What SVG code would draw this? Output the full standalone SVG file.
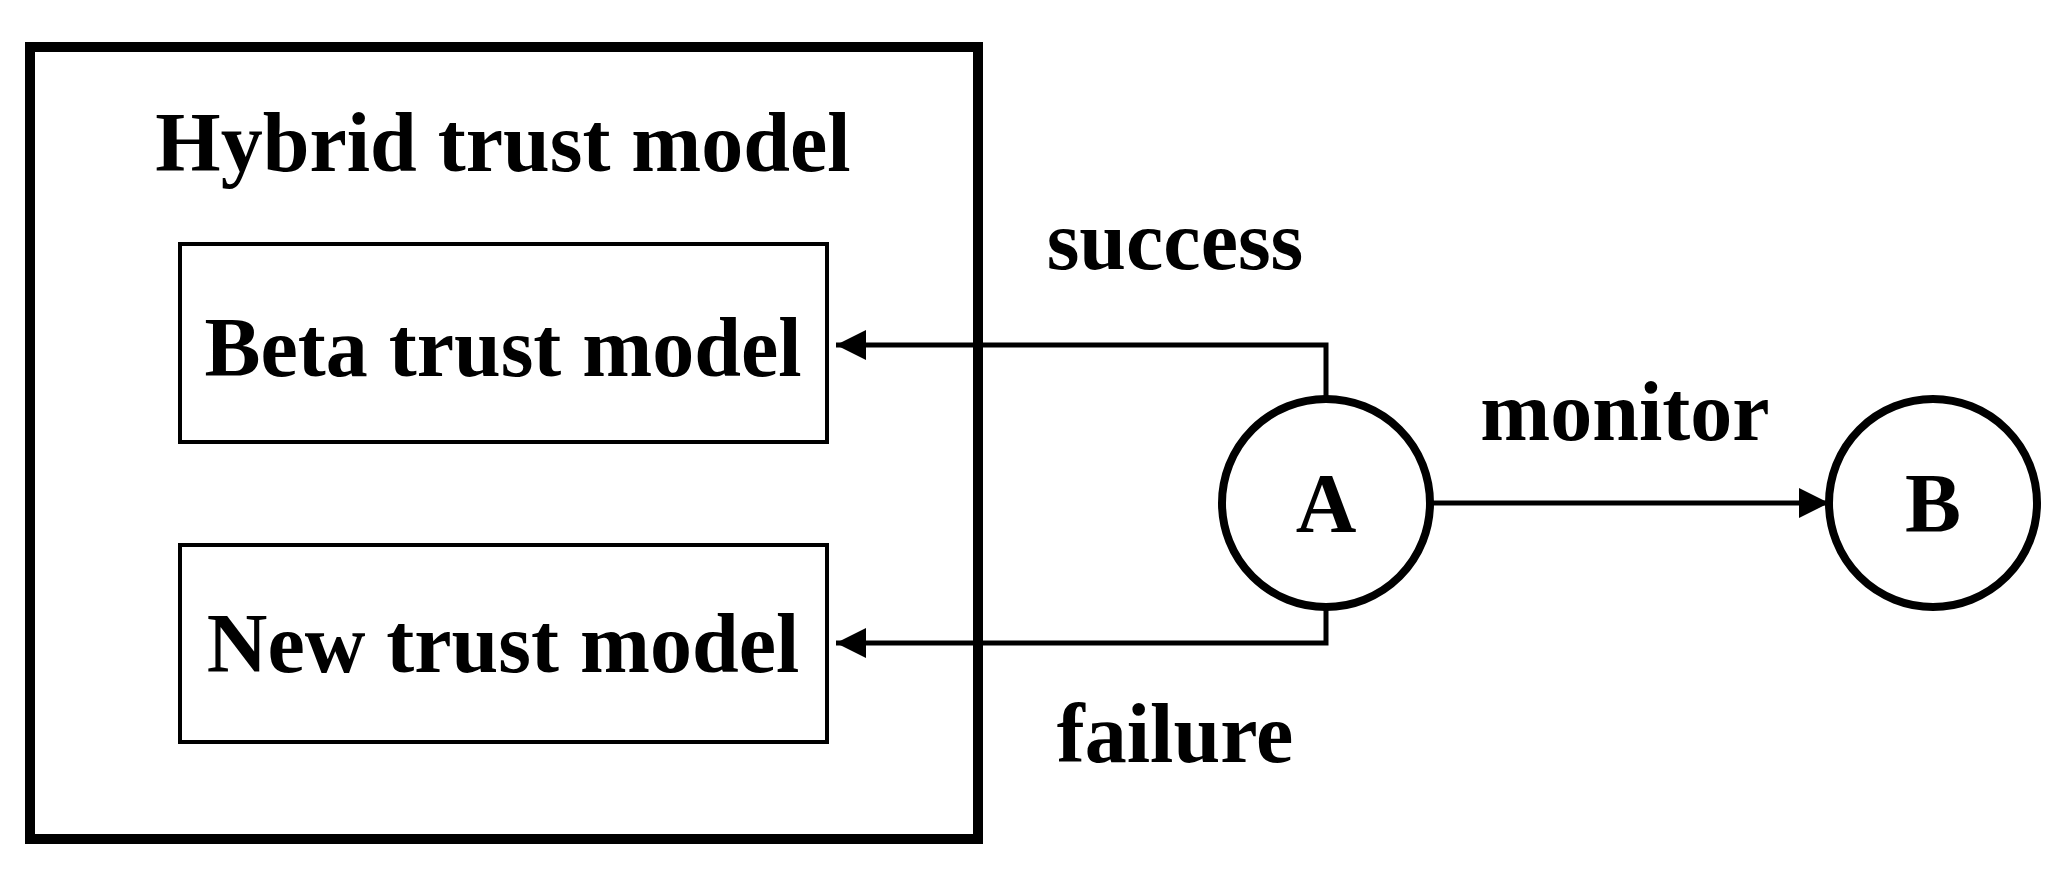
<svg xmlns="http://www.w3.org/2000/svg" width="2059" height="881" viewBox="0 0 2059 881">
<style>
text{font-family:"Liberation Serif","Times New Roman",serif;font-weight:bold;font-size:84px;fill:#000;text-anchor:middle}
.box{fill:#fff;stroke:#000;stroke-width:4}
.c{fill:#fff;stroke:#000;stroke-width:8}
.e{fill:none;stroke:#000;stroke-width:5}
</style>
<defs>
<marker id="a" viewBox="0 0 10 10" refX="10" refY="5" markerWidth="30" markerHeight="30" markerUnits="userSpaceOnUse" orient="auto"><path d="M0,0 L10,5 L0,10 z" fill="#000"/></marker></defs>
<rect width="2059" height="881" fill="#fff"/>
<g id="hybrid"><rect x="30" y="47" width="948" height="792" fill="none" stroke="#000" stroke-width="10"/><text x="503" y="171">Hybrid trust model</text></g>
<g id="beta"><rect class="box" x="180" y="244" width="647" height="198"/><text x="503" y="376">Beta trust model</text></g>
<g id="new"><rect class="box" x="180" y="545" width="647" height="197"/><text x="503" y="672">New trust model</text></g>
<g id="A"><circle class="c" cx="1326" cy="503" r="104"/><text x="1326" y="532">A</text></g>
<g id="B"><circle class="c" cx="1933" cy="503" r="104"/><text x="1933" y="532">B</text></g>
<g id="connectors">
<path class="e" d="M1326,399 V345 H836" marker-end="url(#a)"/>
<path class="e" d="M1326,607 V643 H836" marker-end="url(#a)"/>
<path class="e" d="M1430,503 H1829" marker-end="url(#a)"/>
<text x="1175" y="269">success</text>
<text x="1625" y="440">monitor</text>
<text x="1175" y="762">failure</text>
</g>
</svg>
